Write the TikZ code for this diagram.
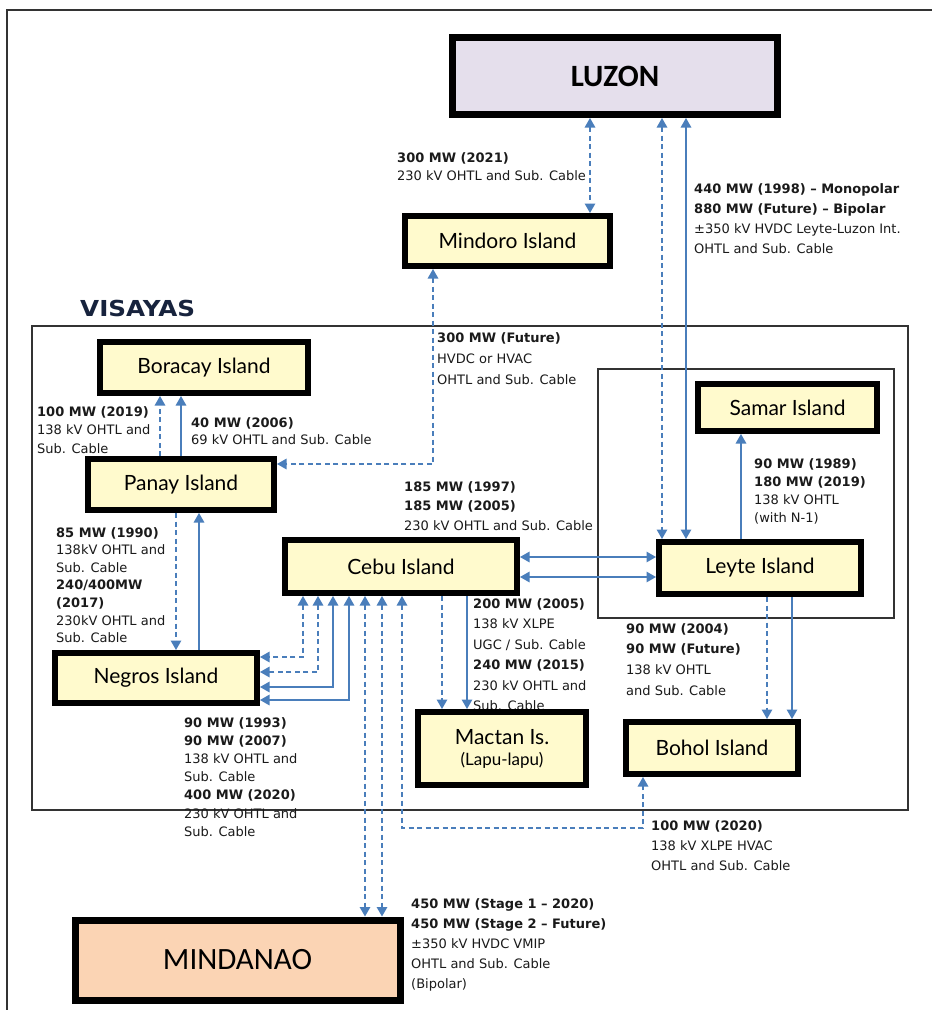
\documentclass[tikz,border=0pt]{standalone}
\usepackage{fontspec}
\setmainfont{DejaVu Sans}
\newfontfamily\islandfont{Lato}
\newfontfamily\regionfont{Carlito}
\usetikzlibrary{arrows.meta}
\definecolor{cblue}{HTML}{4A7EBB}
\definecolor{cyel}{HTML}{FFFACD}
\definecolor{clav}{HTML}{E5DFEC}
\definecolor{cpeach}{HTML}{FBD4B4}
\definecolor{cnavy}{HTML}{17233D}
\definecolor{ctext}{HTML}{1A1A1A}
\definecolor{cframe}{HTML}{333333}
\begin{document}
\begin{tikzpicture}[x=1pt,y=-1pt,
  >={Triangle[width=10.5pt,length=9.5pt]},
  frame/.style={draw=cframe,line width=1.3pt},
  island/.style={draw=black,line width=6pt,fill=cyel,inner sep=0pt,
    font=\islandfont\fontsize{21}{24}\selectfont,text=black},
  region/.style={draw=black,line width=7pt,inner sep=0pt,text=black},
  conn/.style={draw=cblue,line width=1.4pt},
  dconn/.style={conn,dash pattern=on 5pt off 3.5pt},
  lbl/.style={anchor=north west,inner sep=0pt,align=left,text=ctext},
  pa/.style={lbl,font=\fontsize{13}{#1}\selectfont}
]
\useasboundingbox (0,0) rectangle (932,1010);
\fill[white] (0,0) rectangle (932,1010);
% frames
\draw[frame] (7,1010) -- (7,10) -- (932,10);
\draw[frame] (32,326) rectangle (908,810);
\draw[frame] (598,369) rectangle (894,618);
\node[anchor=base west,inner sep=0pt,text=cnavy,font=\bfseries\fontsize{22}{24}\selectfont] (vislbl) at (80,316) {\scalebox{1.12}[1]{VISAYAS}};

% labels
\node[pa=18.5] (lA) at (397,152) {\textbf{300 MW (2021)}\\230 kV OHTL and Sub. Cable};
\node[pa=20] (lB) at (694,183) {\textbf{440 MW (1998) – Monopolar}\\\textbf{880 MW (Future) – Bipolar}\\±350 kV HVDC Leyte-Luzon Int.\\OHTL and Sub. Cable};
\node[pa=21] (lC) at (437,332) {\textbf{300 MW (Future)}\\HVDC or HVAC\\OHTL and Sub. Cable};
\node[pa=18.5] (lD) at (37,406) {\textbf{100 MW (2019)}\\138 kV OHTL and\\Sub. Cable};
\node[pa=17] (lE) at (191,417) {\textbf{40 MW (2006)}\\69 kV OHTL and Sub. Cable};
\node[pa=17.6] (lF) at (56,527) {\textbf{85 MW (1990)}\\138kV OHTL and\\Sub. Cable\\\textbf{240/400MW}\\\textbf{(2017)}\\230kV OHTL and\\Sub. Cable};
\node[pa=18.2] (lG) at (184,717) {\textbf{90 MW (1993)}\\\textbf{90 MW (2007)}\\138 kV OHTL and\\Sub. Cable\\\textbf{400 MW (2020)}\\230 kV OHTL and\\Sub. Cable};
\node[pa=19.5] (lH) at (404,481) {\textbf{185 MW (1997)}\\\textbf{185 MW (2005)}\\230 kV OHTL and Sub. Cable};
\node[pa=18] (lI) at (754,458) {\textbf{90 MW (1989)}\\\textbf{180 MW (2019)}\\138 kV OHTL\\(with N-1)};
\node[pa=20.5] (lJ) at (473,598) {\textbf{200 MW (2005)}\\138 kV XLPE\\UGC / Sub. Cable\\\textbf{240 MW (2015)}\\230 kV OHTL and\\Sub. Cable};
\node[pa=20.7] (lK) at (626,623) {\textbf{90 MW (2004)}\\\textbf{90 MW (Future)}\\138 kV OHTL\\and Sub. Cable};
\node[pa=20] (lL) at (651,820) {\textbf{100 MW (2020)}\\138 kV XLPE HVAC\\OHTL and Sub. Cable};
\node[pa=20] (lM) at (411,898) {\textbf{450 MW (Stage 1 – 2020)}\\\textbf{450 MW (Stage 2 – Future)}\\±350 kV HVDC VMIP\\OHTL and Sub. Cable\\(Bipolar)};

% boxes
\node[region,fill=clav,minimum width=325pt,minimum height=77pt,
  font=\regionfont\bfseries\fontsize{31}{34}\selectfont] (luzon) at (615,76) {LUZON};
\node[island,minimum width=205pt,minimum height=50pt] (mindoro) at (507.5,241) {Mindoro Island};
\node[island,minimum width=208pt,minimum height=51pt] (boracay) at (204,367.5) {Boracay Island};
\node[island,minimum width=186pt,minimum height=51pt] (panay) at (181,484.5) {Panay Island};
\node[island,minimum width=232pt,minimum height=53pt] (cebu) at (401,566.5) {Cebu Island};
\node[island,minimum width=202pt,minimum height=52pt] (leyte) at (760,568) {Leyte Island};
\node[island,minimum width=179pt,minimum height=47pt] (samar) at (787.5,407.5) {Samar Island};
\node[island,minimum width=202pt,minimum height=50pt] (negros) at (156,678) {Negros Island};
\node[island,minimum width=168pt,minimum height=73pt,align=center] (mactan) at (502,748.5)
  {Mactan Is.\\[-3pt]{\fontsize{17}{19}\selectfont(Lapu-lapu)}};
\node[island,minimum width=172pt,minimum height=52pt] (bohol) at (712,748) {Bohol Island};
\node[region,fill=cpeach,minimum width=325pt,minimum height=80pt,
  font=\regionfont\fontsize{31}{34}\selectfont] (mindanao) at (237.5,960) {MINDANAO};

% connectors
\draw[dconn,<->] ([xshift=-25pt]luzon.south) -- ([xshift=82.5pt]mindoro.north);
\draw[dconn,<->] ([xshift=47pt]luzon.south) -- ([xshift=-98pt]leyte.north);
\draw[conn,<->] ([xshift=71pt]luzon.south) -- ([xshift=-74pt]leyte.north);
\draw[dconn,<->] ([xshift=-74.5pt]mindoro.south) |- ([yshift=20.5pt]panay.east);
\draw[dconn,->] ([xshift=-21pt]panay.north) -- ([xshift=-44pt]boracay.south);
\draw[conn,->] (panay.north) -- ([xshift=-23pt]boracay.south);
\draw[dconn,->] ([xshift=-5pt]panay.south) -- ([xshift=20pt]negros.north);
\draw[conn,->] ([xshift=43pt]negros.north) -- ([xshift=18pt]panay.south);
\draw[dconn,<->] ([xshift=-98pt]cebu.south) |- ([yshift=21pt]negros.east);
\draw[dconn,<->] ([xshift=-83pt]cebu.south) |- ([yshift=6pt]negros.east);
\draw[conn,<->] ([xshift=-68pt]cebu.south) |- ([yshift=-9pt]negros.east);
\draw[conn,<->] ([xshift=-52pt]cebu.south) |- ([yshift=-22pt]negros.east);
\draw[dconn,<->] ([xshift=-36pt]cebu.south) -- ([xshift=127.5pt]mindanao.north);
\draw[dconn,<->] ([xshift=-19pt]cebu.south) -- ([xshift=144.5pt]mindanao.north);
\coordinate (bbend) at (402,828);
\draw[dconn,<->] ([xshift=1pt]cebu.south) -- (bbend) -| ([xshift=-69pt]bohol.south);
\draw[dconn,->] ([xshift=41pt]cebu.south) -- ([xshift=-60pt]mactan.north);
\draw[conn,->] ([xshift=66pt]cebu.south) -- ([xshift=-35pt]mactan.north);
\draw[conn,<->] ([yshift=9.5pt]cebu.east) -- ([yshift=11pt]leyte.west);
\draw[conn,<->] ([yshift=-10.5pt]cebu.east) -- ([yshift=-9pt]leyte.west);
\draw[conn,->] ([xshift=-19pt]leyte.north) -- ([xshift=-46.5pt]samar.south);
\draw[dconn,->] ([xshift=7pt]leyte.south) -- ([xshift=55pt]bohol.north);
\draw[conn,->] ([xshift=32pt]leyte.south) -- ([xshift=80pt]bohol.north);
\end{tikzpicture}
\end{document}
